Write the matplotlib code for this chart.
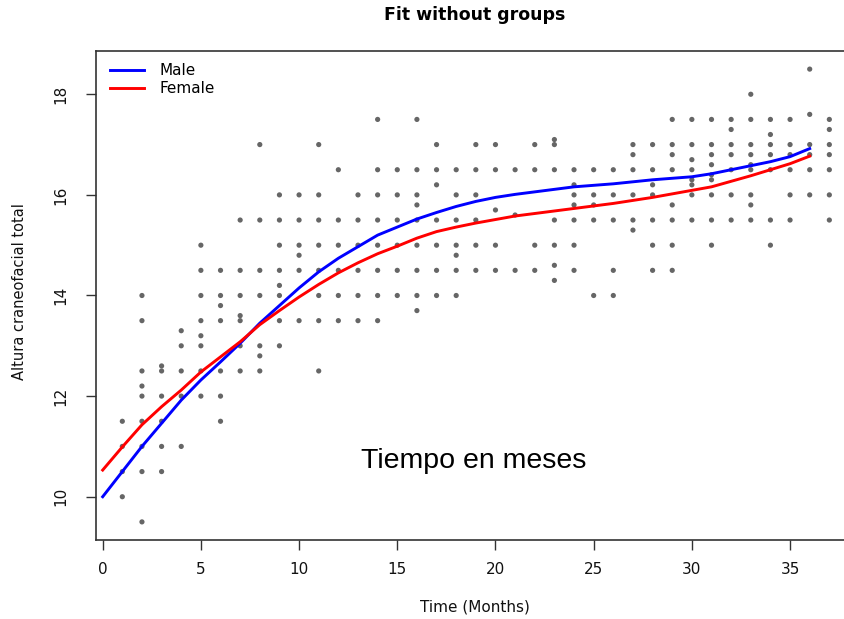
import matplotlib
matplotlib.use("Agg")
import matplotlib.pyplot as plt
from matplotlib.lines import Line2D

# observed heights for each month (index = month 0..37)
heights_by_month = [
    [],
    [11.5, 11.0, 10.5, 10.0],
    [14.0, 13.5, 12.5, 12.2, 12.0, 11.5, 11.0, 10.5, 9.5],
    [12.6, 12.5, 12.0, 11.5, 11.0, 10.5],
    [13.3, 13.0, 12.5, 12.0, 11.0],
    [15.0, 14.5, 14.0, 13.5, 13.2, 13.0, 12.5, 12.0],
    [14.5, 14.0, 13.8, 13.5, 12.5, 12.0, 11.5],
    [15.5, 14.5, 14.0, 13.6, 13.5, 13.0, 12.5],
    [17.0, 15.5, 14.5, 14.0, 13.0, 12.8, 12.5],
    [16.0, 15.5, 15.0, 14.5, 14.2, 14.0, 13.5, 13.0],
    [16.0, 15.5, 15.0, 14.8, 14.5, 13.5],
    [17.0, 16.0, 15.5, 15.0, 14.5, 14.0, 13.5, 12.5],
    [16.5, 15.5, 15.0, 14.5, 14.0, 13.5],
    [16.0, 15.5, 15.0, 14.5, 14.0, 13.5],
    [17.5, 16.5, 16.0, 15.5, 15.0, 14.5, 14.0, 13.5],
    [16.5, 16.0, 15.5, 15.0, 14.5, 14.0],
    [17.5, 16.5, 16.0, 15.8, 15.5, 15.0, 14.5, 14.0, 13.7],
    [17.0, 16.5, 16.2, 15.5, 15.0, 14.5, 14.0],
    [16.5, 16.0, 15.5, 15.0, 14.8, 14.5, 14.0],
    [17.0, 16.5, 16.0, 15.5, 15.0, 14.5],
    [17.0, 16.5, 15.7, 15.0, 14.5],
    [16.5, 15.6, 14.5],
    [17.0, 16.5, 15.0, 14.5],
    [17.1, 17.0, 16.5, 15.5, 15.0, 14.6, 14.3],
    [16.5, 16.2, 16.0, 15.8, 15.5, 15.0, 14.5],
    [16.5, 16.0, 15.8, 15.5, 14.0],
    [16.5, 16.0, 15.5, 14.5, 14.0],
    [17.0, 16.8, 16.5, 16.0, 15.5, 15.3],
    [17.0, 16.5, 16.2, 16.0, 15.5, 15.0, 14.5],
    [17.5, 17.0, 16.8, 16.5, 15.8, 15.5, 15.0, 14.5],
    [17.5, 17.0, 16.7, 16.5, 16.3, 16.2, 16.0, 15.5],
    [17.5, 17.0, 16.8, 16.6, 16.4, 16.3, 16.0, 15.5, 15.0],
    [17.5, 17.3, 17.0, 16.8, 16.5, 16.0, 15.5],
    [18.0, 17.5, 17.0, 16.8, 16.6, 16.5, 16.0, 15.8, 15.5],
    [17.5, 17.2, 17.0, 16.8, 16.5, 15.5, 15.0],
    [17.5, 17.0, 16.8, 16.5, 16.0, 15.5],
    [18.5, 17.6, 17.0, 16.8, 16.5, 16.0],
    [17.5, 17.3, 17.0, 16.8, 16.5, 16.0, 15.5],
]

# fitted curves, months 0..36
fit_months = list(range(37))
male_fit = [10.0, 10.5, 11.0, 11.46, 11.92, 12.32, 12.68, 13.05, 13.45, 13.8,
            14.15, 14.47, 14.74, 14.97, 15.2, 15.36, 15.52, 15.65, 15.77, 15.87,
            15.95, 16.01, 16.06, 16.11, 16.16, 16.19, 16.22, 16.26, 16.3, 16.33,
            16.36, 16.42, 16.5, 16.58, 16.66, 16.76, 16.92]
female_fit = [10.53, 10.99, 11.43, 11.79, 12.12, 12.48, 12.78, 13.08, 13.42, 13.7,
              13.97, 14.22, 14.45, 14.65, 14.83, 14.98, 15.14, 15.27, 15.36, 15.44,
              15.51, 15.58, 15.63, 15.68, 15.73, 15.78, 15.83, 15.89, 15.95, 16.02,
              16.09, 16.16, 16.27, 16.38, 16.5, 16.62, 16.77]

x_ticks = [0, 5, 10, 15, 20, 25, 30, 35]
y_ticks = [10, 12, 14, 16, 18]

obs_x = []
obs_y = []
for month, vals in enumerate(heights_by_month):
    for v in vals:
        obs_x.append(month)
        obs_y.append(v)

plt.rcParams['font.family'] = ['DejaVu Sans']

W, H = 845, 619
fig = plt.figure(figsize=(W / 100, H / 100), dpi=100)
# plot region runs off the right edge of the figure
ax = fig.add_axes([96 / W, 79 / H, 762.8 / W, 489 / H])
ax.set_xlim(-0.34, 38.5)
ax.set_ylim(9.14, 18.86)

ax.scatter(obs_x, obs_y, s=14, color='#666666', edgecolors='none', zorder=2)
ax.plot(fit_months, male_fit, color='#0000ff', lw=2.1, zorder=3)
ax.plot(fit_months, female_fit, color='#ff0000', lw=2.1, zorder=3)

for sp in ax.spines.values():
    sp.set_color('#333333')
    sp.set_linewidth(1.2)

ax.set_xticks(x_ticks)
ax.set_yticks(y_ticks)
ax.tick_params(axis='both', direction='out', length=7, width=1, color='#333333',
               labelsize=11, labelcolor='#111111')
ax.tick_params(axis='x', pad=9)
ax.tick_params(axis='y', pad=13)
for lab in ax.get_yticklabels():
    lab.set_rotation(90)
    lab.set_va('center')

handles = [Line2D([], [], color='#0000ff', lw=2.1),
           Line2D([], [], color='#ff0000', lw=2.1)]
ax.legend(handles, ['Male', 'Female'], loc='upper left',
          bbox_to_anchor=(0.0184, 0.975), frameon=False, fontsize=11,
          borderpad=0, borderaxespad=0, handlelength=2.2,
          handletextpad=1.05, labelspacing=0.2)

fig.text(475 / W, 1 - 15 / H, 'Fit without groups', ha='center', va='center',
         fontsize=12.5, fontweight='bold')
fig.text(475 / W, 1 - 607 / H, 'Time (Months)', ha='center', va='center',
         fontsize=11, color='#111111')
fig.text(20 / W, 1 - 292 / H, 'Altura craneofacial total', ha='center',
         va='center', rotation=90, fontsize=10.5, color='#111111')
fig.text(474 / W, 1 - 461 / H, 'Tiempo en meses', ha='center', va='center',
         fontsize=20.5, family='Liberation Sans')

fig.savefig('out.png', dpi=100)
